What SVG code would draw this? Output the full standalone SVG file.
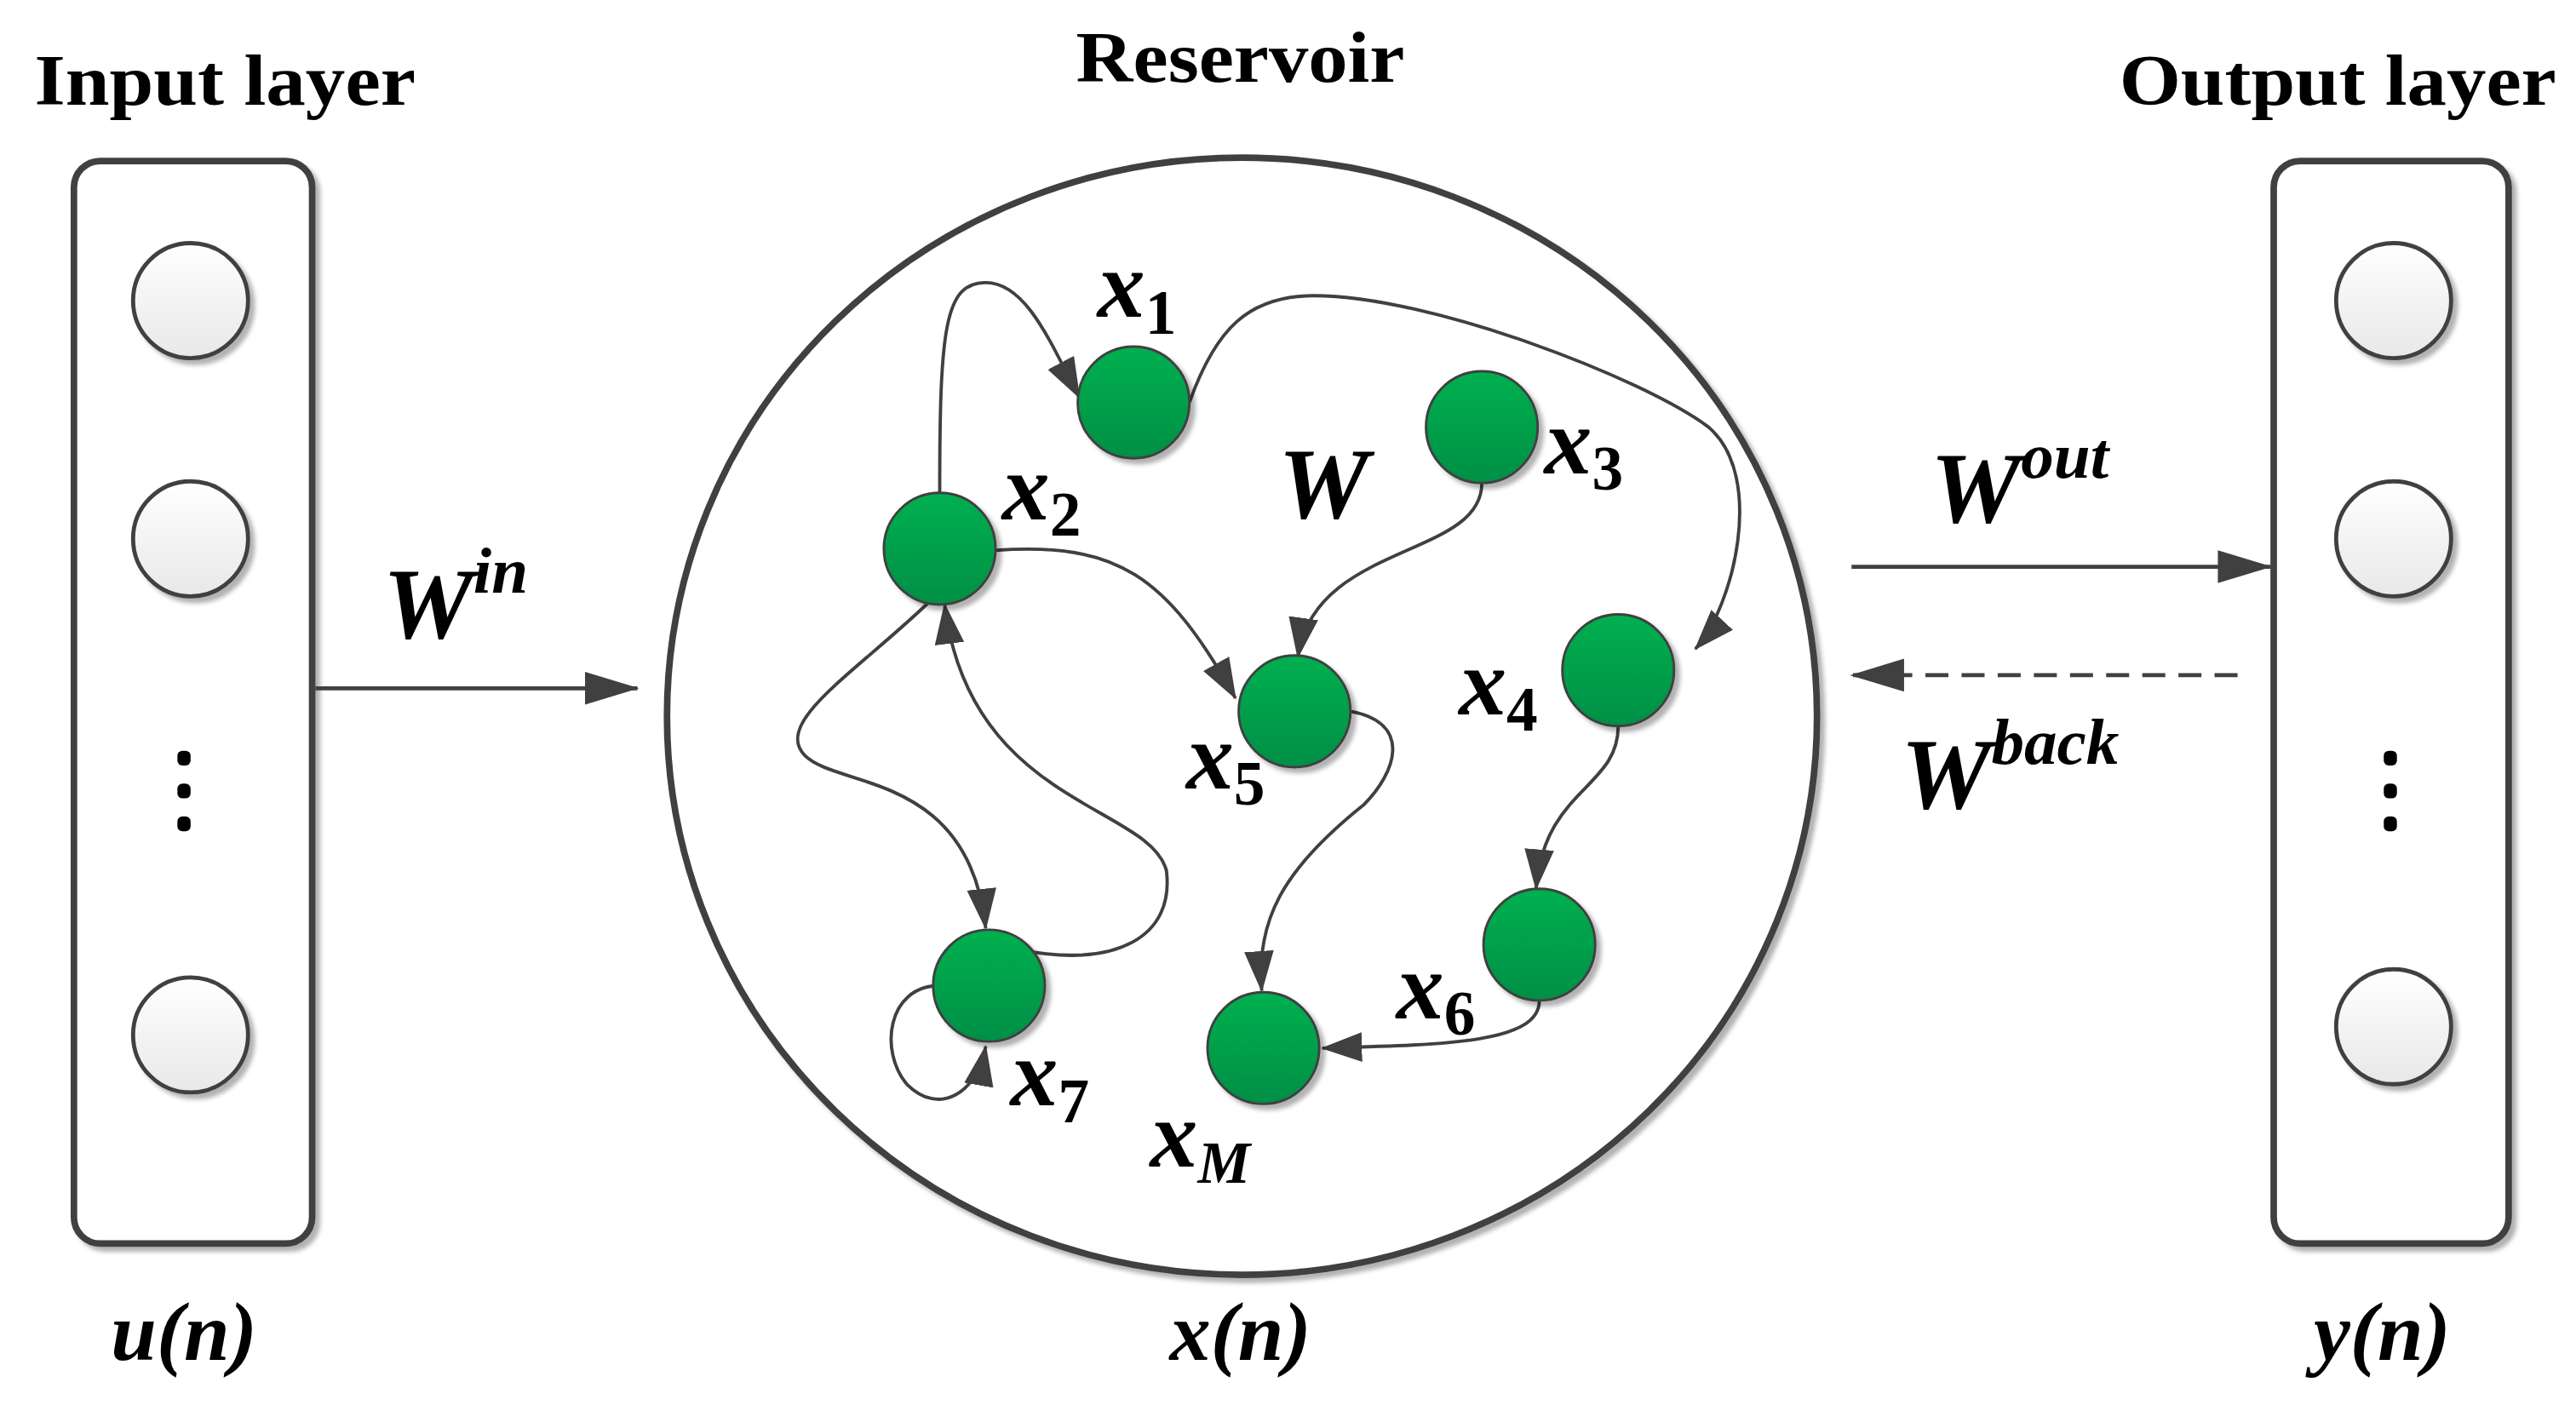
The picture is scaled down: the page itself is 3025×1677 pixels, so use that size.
<svg xmlns="http://www.w3.org/2000/svg" width="3025" height="1677" viewBox="0 0 3025 1677">
<defs>
<linearGradient id="gw" x1="0" y1="0" x2="0" y2="1"><stop offset="0" stop-color="#ffffff"/><stop offset="1" stop-color="#e8e8e8"/></linearGradient>
<linearGradient id="gg" x1="0" y1="0" x2="0" y2="1"><stop offset="0" stop-color="#00b050"/><stop offset="1" stop-color="#008f45"/></linearGradient>
<filter id="sh" x="-20%" y="-20%" width="150%" height="150%"><feDropShadow dx="3" dy="3" stdDeviation="1.5" flood-color="#000" flood-opacity="0.3"/></filter>
<marker id="ah" markerUnits="userSpaceOnUse" markerWidth="30" markerHeight="20" refX="24" refY="9" orient="auto"><path d="M0,0 L25,9 L0,18 Z" fill="#404040"/></marker>
<marker id="ahb" markerUnits="userSpaceOnUse" markerWidth="36" markerHeight="24" refX="32" refY="10" orient="auto"><path d="M0,0 L33,10 L0,20 Z" fill="#404040"/></marker>
</defs>
<style>
.t{font-family:"Liberation Serif",serif;font-weight:bold;fill:#000}
.i{font-style:italic}
.box{fill:#fff;stroke:#404040;stroke-width:4;filter:url(#sh)}
.wn{fill:url(#gw);stroke:#404040;stroke-width:2.5;filter:url(#sh)}
.gn{fill:url(#gg);stroke:#404040;stroke-width:1.5;filter:url(#sh)}
.e{fill:none;stroke:#404040;stroke-width:2;marker-end:url(#ah)}
</style>
<rect width="3025" height="1677" fill="#fff"/>
<g transform="scale(1.9292)">
<g id="input-layer">
<rect class="box" x="45" y="98" width="145" height="659" rx="16"/>
<circle class="wn" cx="116" cy="183" r="35"/>
<circle class="wn" cx="116" cy="328" r="35"/>
<circle class="wn" cx="116" cy="630" r="35"/>
<g fill="#000"><rect x="108" y="457" width="8" height="9" rx="3"/><rect x="108" y="477" width="8" height="9" rx="3"/><rect x="108" y="497" width="8" height="9" rx="3"/></g>
<text class="t" x="137" y="64" font-size="44" text-anchor="middle" textLength="232" lengthAdjust="spacingAndGlyphs">Input layer</text>
<text class="t i" x="112" y="828" font-size="50" text-anchor="middle">u(n)</text>
</g>
<g id="output-layer">
<rect class="box" x="1384" y="98" width="143" height="659" rx="16"/>
<circle class="wn" cx="1457" cy="183" r="35"/>
<circle class="wn" cx="1457" cy="328" r="35"/>
<circle class="wn" cx="1457" cy="625" r="35"/>
<g fill="#000"><rect x="1451" y="457" width="8" height="9" rx="3"/><rect x="1451" y="477" width="8" height="9" rx="3"/><rect x="1451" y="497" width="8" height="9" rx="3"/></g>
<text class="t" x="1423" y="64" font-size="44" text-anchor="middle" textLength="266" lengthAdjust="spacingAndGlyphs">Output layer</text>
<text class="t i" x="1450" y="828" font-size="50" text-anchor="middle">y(n)</text>
</g>
<g id="reservoir">
<ellipse class="box" cx="756" cy="436" rx="350" ry="340"/>
<text class="t" x="755" y="50" font-size="44" text-anchor="middle" textLength="200" lengthAdjust="spacingAndGlyphs">Reservoir</text>
<text class="t i" x="755" y="828" font-size="50" text-anchor="middle">x(n)</text>
<text class="t i" x="778" y="315" font-size="62">W</text>
</g>
<g id="connectors">
<path class="e" d="M572,300 C572,200 575,172 600,172 C625,172 640,210 657,242"/>
<path class="e" d="M724,245 C740,200 760,180 800,180 C870,180 1000,230 1040,260 C1075,290 1055,370 1032,395"/>
<path class="e" d="M902,294 C902,340 800,330 790,400"/>
<path class="e" d="M606,335 C680,330 710,350 752,425"/>
<path class="e" d="M822,433 C860,440 850,470 830,490 C780,530 765,560 768,603"/>
<path class="e" d="M985,442 C985,480 940,480 935,541"/>
<path class="e" d="M937,609 C937,635 880,636 805,638"/>
<path class="e" d="M565,367 C520,410 470,440 490,460 C510,480 590,470 600,565"/>
<path class="e" d="M620,578 C680,590 715,570 710,530 C700,490 590,490 575,368"/>
<path class="e" d="M572,600 C540,600 535,640 552,660 C572,680 595,665 600,637"/>
<path fill="none" stroke="#404040" stroke-width="2.5" marker-end="url(#ahb)" d="M192,419 L388,419"/>
<path fill="none" stroke="#404040" stroke-width="2.5" marker-end="url(#ahb)" d="M1127,345 L1382,345"/>
<path fill="none" stroke="#404040" stroke-width="2.5" stroke-dasharray="14,8" marker-end="url(#ahb)" d="M1362,411 L1127,411"/>
</g>
<g id="labels" class="t i">
<text x="233" y="388" font-size="62">W<tspan font-size="40" dy="-27">in</tspan></text>
<text x="1175" y="318" font-size="62">W<tspan font-size="40" dy="-27">out</tspan></text>
<text x="1157" y="492" font-size="62">W<tspan font-size="40" dy="-27">back</tspan></text>
</g>
<g id="x1"><circle class="gn" cx="690" cy="245" r="34"/><text class="t i" x="668" y="193" font-size="58">x<tspan font-size="38" dy="10" font-style="normal">1</tspan></text></g>
<g id="x2"><circle class="gn" cx="572" cy="334" r="34"/><text class="t i" x="610" y="316" font-size="58">x<tspan font-size="38" dy="10" font-style="normal">2</tspan></text></g>
<g id="x3"><circle class="gn" cx="902" cy="260" r="34"/><text class="t i" x="940" y="288" font-size="58">x<tspan font-size="38" dy="10" font-style="normal">3</tspan></text></g>
<g id="x4"><circle class="gn" cx="985" cy="408" r="34"/><text class="t i" x="888" y="435" font-size="58">x<tspan font-size="38" dy="10" font-style="normal">4</tspan></text></g>
<g id="x5"><circle class="gn" cx="788" cy="433" r="34"/><text class="t i" x="722" y="480" font-size="58">x<tspan font-size="38" dy="10" font-style="normal">5</tspan></text></g>
<g id="x6"><circle class="gn" cx="937" cy="575" r="34"/><text class="t i" x="850" y="620" font-size="58">x<tspan font-size="38" dy="10" font-style="normal">6</tspan></text></g>
<g id="x7"><circle class="gn" cx="602" cy="600" r="34"/><text class="t i" x="615" y="673" font-size="58">x<tspan font-size="38" dy="10" font-style="normal">7</tspan></text></g>
<g id="xM"><circle class="gn" cx="769" cy="638" r="34"/><text class="t i" x="700" y="710" font-size="58">x<tspan font-size="36" dy="10">M</tspan></text></g>
</g>
</svg>
